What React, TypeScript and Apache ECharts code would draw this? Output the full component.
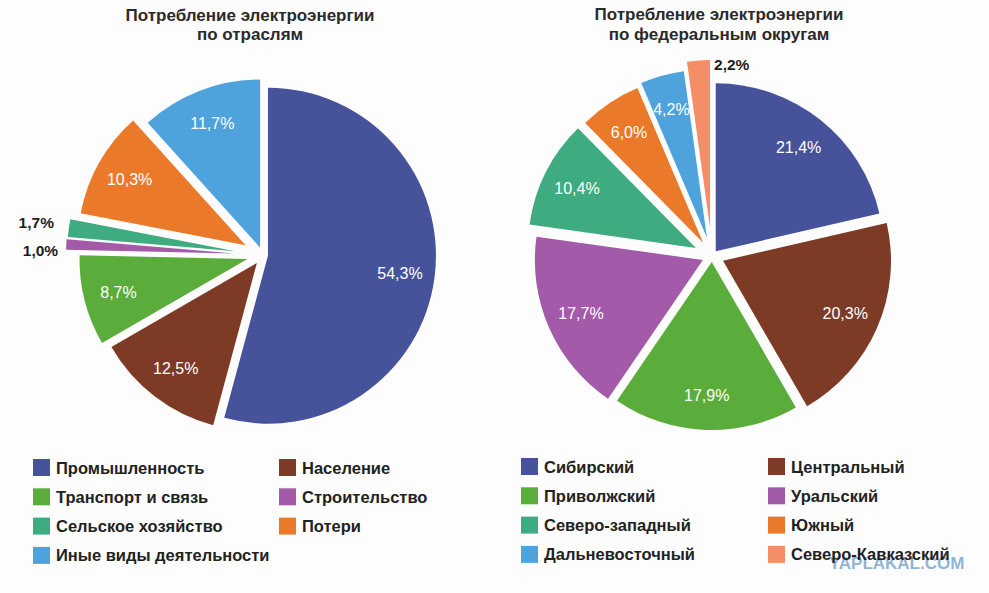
import React, { useEffect, useRef } from "react";
import * as echarts from "echarts";

// ---- data ----
const leftTitle = "Потребление электроэнергии\nпо отраслям";
const leftNames = [
  "Промышленность",
  "Население",
  "Транспорт и связь",
  "Строительство",
  "Сельское хозяйство",
  "Потери",
  "Иные виды деятельности",
];
const leftValues = [54.3, 12.5, 8.7, 1.0, 1.7, 10.3, 11.7];

const rightTitle = "Потребление электроэнергии\nпо федеральным округам";
const rightNames = [
  "Сибирский",
  "Центральный",
  "Приволжский",
  "Уральский",
  "Северо-западный",
  "Южный",
  "Дальневосточный",
  "Северо-Кавказский",
];
const rightValues = [21.4, 20.3, 17.9, 17.7, 10.4, 6.0, 4.2, 2.2];

// ---- styling ----
const leftColors = ["#46539a", "#7d3a25", "#5aad3b", "#a35aa9", "#3fab80", "#ea7a2a", "#4ea3dd"];
const rightColors = ["#46539a", "#7d3a25", "#5aad3b", "#a35aa9", "#3fab80", "#ea7a2a", "#4ea3dd", "#f48e66"];
const leftOffsets = [5, 10, 16, 29, 28, 20, 8];
const rightOffsets = [6, 12, 6, 10, 18, 16, 19, 28];
// label placement: "in" = inside white label; otherwise an outer dark label on a ring [r0, r] (× radius) with nudges
const leftLabelMode: any[] = [
  "in",
  "in",
  "in",
  { ring: [1.06, 1.26], dx: 4, dy: 8 },
  { ring: [1.08, 1.3], dx: 2, dy: -1 },
  "in",
  "in",
];
const rightLabelMode: any[] = ["in", "in", "in", "in", "in", "in", "in", { ring: [0.9, 1.02], dx: 33, dy: 0 }];

const FONT = "'Liberation Sans', Arial, Helvetica, sans-serif";
const fmt = (v: number) => v.toFixed(1).replace(".", ",") + "%";

function buildPie(
  names: string[],
  values: number[],
  colors: string[],
  offsets: number[],
  modes: any[],
  center: [number, number],
  R: number,
  innerRatio: number
) {
  const series: any[] = [];
  names.forEach((_, i) => {
    const slice = {
      type: "pie",
      center,
      radius: [0, R],
      startAngle: 90,
      clockwise: true,
      silent: true,
      selectedMode: "single",
      selectedOffset: offsets[i],
      avoidLabelOverlap: false,
      label: { show: false },
      labelLine: { show: false },
      emphasis: { disabled: true },
      data: names.map((n, j) => ({
        name: n,
        value: values[j],
        selected: j === i,
        itemStyle: { color: j === i ? colors[j] : "rgba(0,0,0,0)" },
        select: { itemStyle: { color: j === i ? colors[j] : "rgba(0,0,0,0)" } },
      })),
    };
    const mode = modes[i];
    const outside = mode !== "in";
    const labelSeries: any = {
      type: "pie",
      center,
      radius: outside ? [R * mode.ring[0], R * mode.ring[1]] : [R * innerRatio, R],
      startAngle: 90,
      clockwise: true,
      silent: true,
      selectedMode: "single",
      selectedOffset: offsets[i],
      avoidLabelOverlap: false,
      labelLine: { show: false },
      emphasis: { disabled: true },
      label: { show: false },
      data: names.map((n, j) => ({
        name: n,
        value: values[j],
        selected: j === i,
        itemStyle: { color: "rgba(0,0,0,0)" },
        select: { itemStyle: { color: "rgba(0,0,0,0)" } },
        label:
          j === i
            ? {
                show: true,
                position: "inside",
                formatter: () => fmt(values[j]),
                color: outside ? "#1e1e1e" : "#ffffff",
                fontFamily: FONT,
                fontSize: outside ? 15.5 : 16,
                fontWeight: outside ? "bold" : "normal",
              }
            : { show: false },
      })),
    };
    if (outside) labelSeries.labelLayout = { dx: mode.dx, dy: mode.dy };
    series.push(slice, labelSeries);
  });
  return series;
}

function legendCol(names: string[], colors: string[], left: number, top: number) {
  return {
    orient: "vertical",
    left,
    top,
    padding: 0,
    selectedMode: false,
    icon: "rect",
    itemWidth: 17,
    itemHeight: 17,
    itemGap: 12.3,
    textStyle: { fontFamily: FONT, fontSize: 16.5, fontWeight: "bold", color: "#222", padding: [0, 0, 0, 1] },
    data: names.map((n, k) => ({ name: n, itemStyle: { color: colors[k] } })),
  };
}

function pick<T>(arr: T[], idx: number[]) {
  return idx.map((i) => arr[i]);
}

export default function App() {
  const ref = useRef<HTMLDivElement>(null);
  useEffect(() => {
    document.body.style.margin = "0";
    if (!ref.current) return;
    const chart = echarts.init(ref.current, undefined, { renderer: "svg" });
    const colA = [0, 2, 4, 6];
    const colB = [1, 3, 5];
    const colC = [0, 2, 4, 6];
    const colD = [1, 3, 5, 7];
    chart.setOption({
      animation: false,
      backgroundColor: "#fdfdfd",
      title: [
        {
          text: leftTitle,
          left: 250,
          top: 6,
          padding: 0,
          textAlign: "center",
          textStyle: { fontFamily: FONT, fontSize: 17, fontWeight: "bold", color: "#2a2a2a", lineHeight: 19, align: "center" },
        },
        {
          text: rightTitle,
          left: 719,
          top: 4,
          padding: 0,
          textAlign: "center",
          textStyle: { fontFamily: FONT, fontSize: 17, fontWeight: "bold", color: "#2a2a2a", lineHeight: 20, align: "center" },
        },
      ],
      legend: [
        legendCol(pick(leftNames, colA), pick(leftColors, colA), 33, 459),
        legendCol(pick(leftNames, colB), pick(leftColors, colB), 279, 459),
        legendCol(pick(rightNames, colC), pick(rightColors, colC), 521, 458),
        legendCol(pick(rightNames, colD), pick(rightColors, colD), 768, 458),
      ],
      graphic: [
        {
          type: "text",
          left: 829,
          top: 555,
          style: {
            text: "YAPLAKAL.COM",
            fill: "rgba(110,155,200,0.75)",
            font: "bold 17px " + FONT,
          },
          silent: true,
        },
      ],
      series: [
        ...buildPie(leftNames, leftValues, leftColors, leftOffsets, leftLabelMode, [263, 255], 168, 0.55),
        ...buildPie(rightNames, rightValues, rightColors, rightOffsets, rightLabelMode, [712, 256], 168, 0.55),
      ],
    });
    return () => chart.dispose();
  }, []);
  return <div ref={ref} style={{ width: 989, height: 593 }} />;
}
